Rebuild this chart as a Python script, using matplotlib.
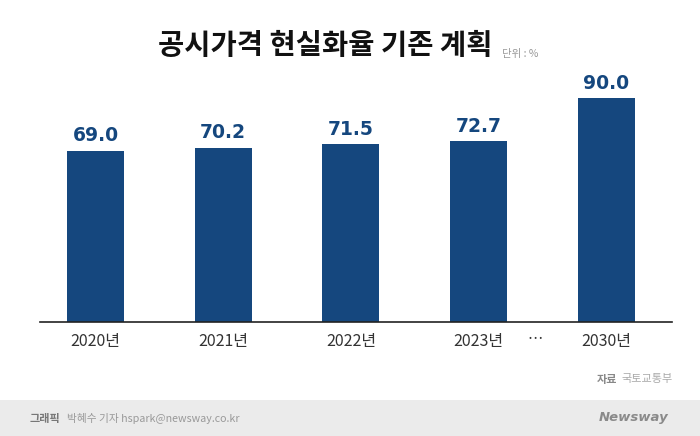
import numpy as np
import matplotlib
matplotlib.use("Agg")
from matplotlib import pyplot as plt
from matplotlib.patches import Rectangle

plt.rcParams['font.family'] = ['Noto Sans CJK KR', 'DejaVu Sans']

# 데이터
years = ["2020년", "2021년", "2022년", "2023년", "2030년"]
rates = [69.0, 70.2, 71.5, 72.7, 90.0]

title = "공시가격 현실화율 기존 계획"
unit = "단위 : %"
source_head = "자료"
source = "국토교통부"
credit_head = "그래픽"
credit = "박혜수 기자 hspark@newsway.co.kr"

bar_color = "#15477e"
W, H = 700, 436

fig = plt.figure(figsize=(7, 4.36), dpi=100)
fig.patch.set_facecolor("white")

# 하단 회색 띠
fig.patches.append(Rectangle((0, 0), 1, 36 / H, transform=fig.transFigure,
                             facecolor="#ebebeb", edgecolor="none", zorder=0))

left, right = 40, 672
base, top = 322, 73.5
ax = fig.add_axes([left / W, 1 - base / H, (right - left) / W, (base - top) / H])
ax.patch.set_alpha(0)

x = np.arange(len(years))
ax.bar(x, rates, width=0.446, color=bar_color, zorder=2)
ax.set_xlim(-0.434, 4.513)
ax.set_ylim(0, 100)

for xi, v in zip(x, rates):
    ax.text(xi, v + 2.2, f"{v:.1f}", ha="center", va="bottom", fontsize=13.5,
            fontweight="bold", color=bar_color, family="DejaVu Sans")

for s in ["top", "right", "left"]:
    ax.spines[s].set_visible(False)
ax.spines["bottom"].set_color("#222222")
ax.spines["bottom"].set_linewidth(1.2)
ax.set_yticks([])
ax.set_xticks(x)
ax.set_xticklabels(years, fontsize=11.5, color="#333333")
ax.tick_params(axis="x", length=0, pad=8)
ax.text(3.44, -0.07, "…", transform=ax.get_xaxis_transform(), ha="center",
        va="center", fontsize=11, color="#333333")

fig.text(325 / W, 1 - 46 / H, title, ha="center", va="center", fontsize=20.5,
         fontweight="black", color="#111111")
fig.text(502 / W, 1 - 54 / H, unit, ha="left", va="center", fontsize=7.5,
         color="#999999")

fig.text(617 / W, 1 - 379 / H, source_head, ha="right", va="center",
         fontsize=8, fontweight="bold", color="#888888")
fig.text(621 / W, 1 - 379 / H, source, ha="left", va="center",
         fontsize=8, color="#aaaaaa")

fig.text(30 / W, 1 - 418 / H, credit_head, ha="left", va="center",
         fontsize=8, fontweight="bold", color="#777777")
fig.text(67 / W, 1 - 418 / H, credit, ha="left", va="center",
         fontsize=7.7, color="#999999")
fig.text(668 / W, 1 - 417 / H, "Newsway", ha="right", va="center",
         fontsize=9.5, fontweight="bold", fontstyle="italic", color="#8a8a8a",
         family="DejaVu Sans")

fig.savefig("out.png", dpi=100)
